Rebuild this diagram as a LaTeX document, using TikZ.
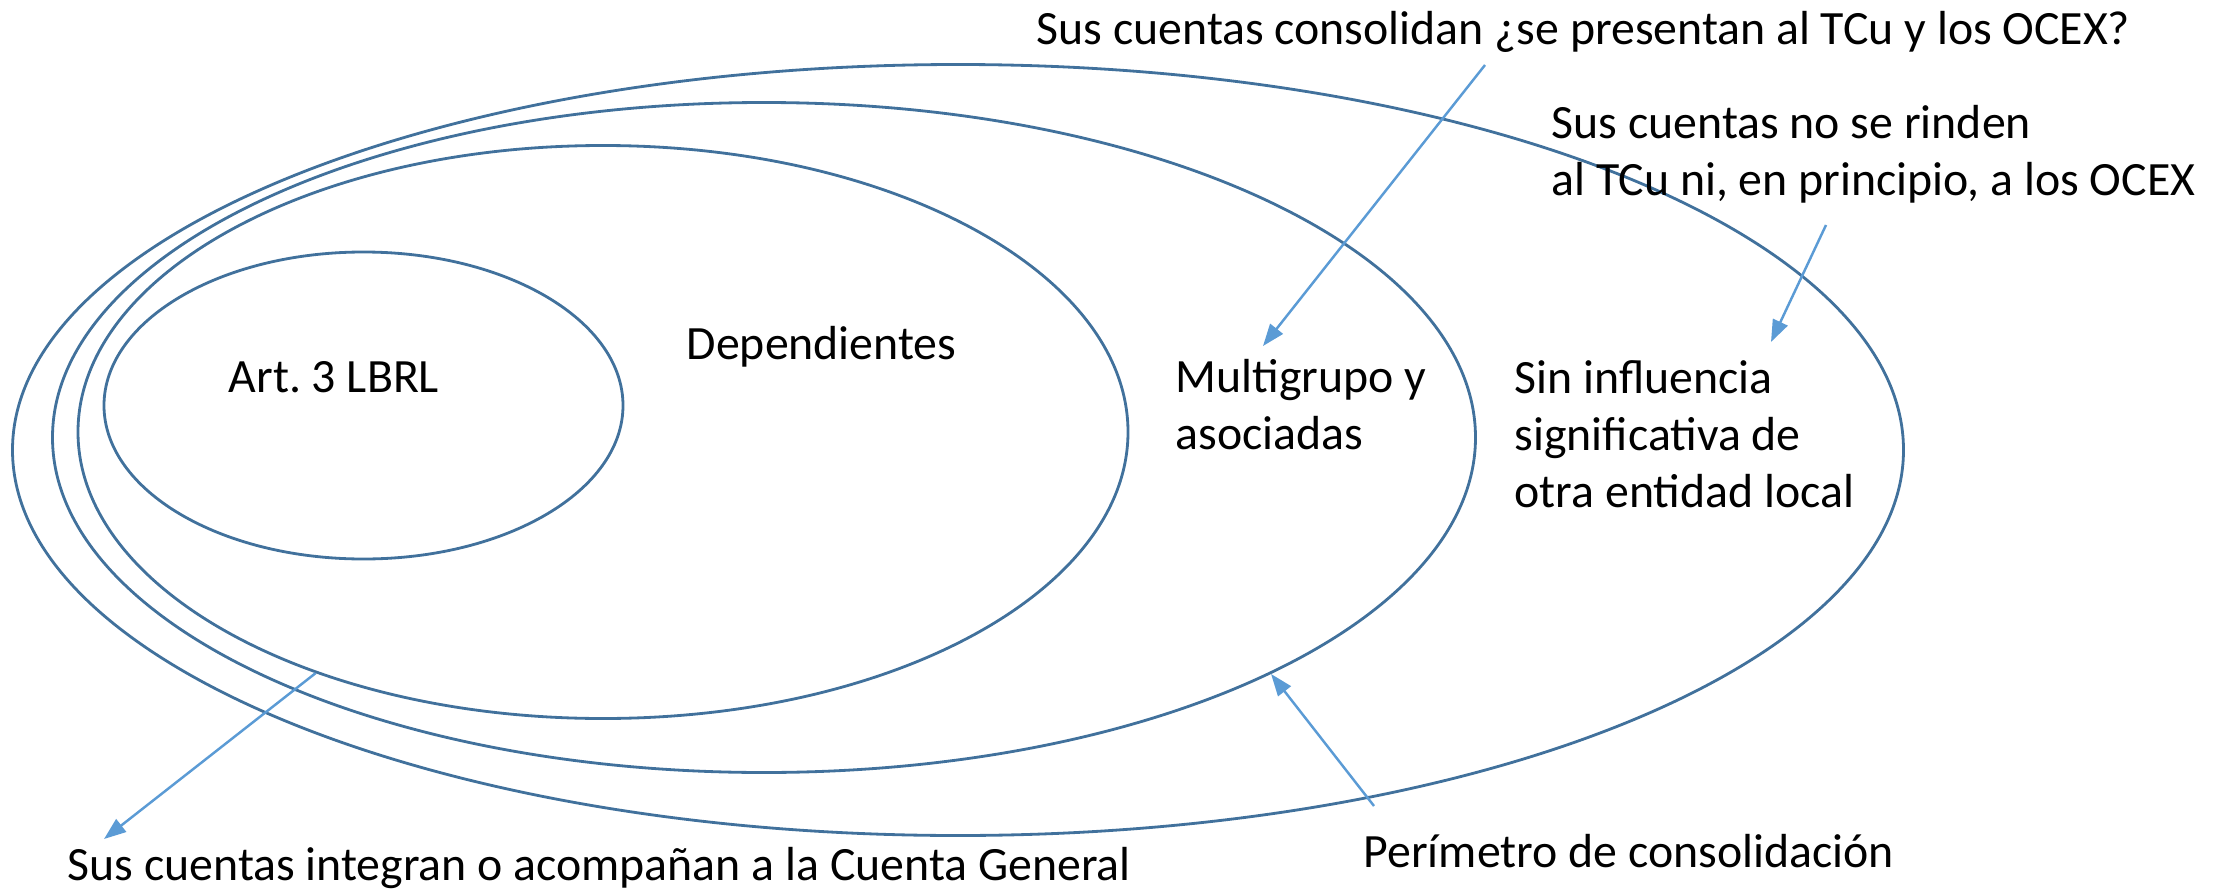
\documentclass[tikz,border=0pt]{standalone}
\usepackage{fontspec}
\setmainfont{Carlito}
\frenchspacing
\usetikzlibrary{shapes.geometric,arrows.meta}
\definecolor{ringblue}{HTML}{41719C}
\definecolor{arrowblue}{HTML}{5B9BD5}

\begin{document}
\begin{tikzpicture}[
    region/.style={ellipse, draw=ringblue, line width=0.8pt, inner sep=0pt},
    label/.style={font=\fontsize{13.6}{16.2}\selectfont, anchor=base west, align=left, inner sep=0pt},
    pointer/.style={draw=arrowblue, line width=0.7pt, -{Triangle[length=2.2mm,width=1.6mm]}}
]
\useasboundingbox (0,0) rectangle (22.31,8.91);

% Regions
\node[region, minimum width=18.91cm, minimum height=7.71cm] (total) at (9.58,4.41) {};
\node[region, minimum width=14.23cm, minimum height=6.70cm] (perim) at (7.64,4.535) {};
\node[region, minimum width=10.50cm, minimum height=5.73cm] (dep) at (6.03,4.59) {};
\node[region, minimum width=5.19cm, minimum height=3.07cm] (lbrl) at (3.635,4.855) {};

% Texts inside (multi-line ones sit on their last line)
\node[label] (art) at (2.28,4.99) {Art. 3 LBRL};
\node[label] (deplabel) at (6.86,5.32) {Dependientes};
\node[label] (multi) at (11.75,4.42) {Multigrupo y\\asociadas};
\node[label] (sin) at (15.14,3.84) {Sin influencia\\significativa de\\otra entidad local};

% Texts outside
\node[label] (consol) at (10.36,8.47) {Sus cuentas consolidan ¿se presentan al TCu y los OCEX?};
\node[label] (rinden) at (15.51,6.96) {Sus cuentas no se rinden\\al TCu ni, en principio, a los OCEX};
\node[label] (integran) at (0.67,0.11) {Sus cuentas integran o acompañan a la Cuenta General};
\node[label] (perimetro) at (13.63,0.24) {Perímetro de consolidación};

% Arrows
\coordinate (consoltail) at (14.85,8.26);
\coordinate (consoltip) at (12.63,5.45);
\coordinate (rindentail) at (18.26,6.66);
\coordinate (rindentip) at (17.71,5.49);
\coordinate (integrantip) at (1.04,0.52);
\coordinate (perimtail) at (13.74,0.85);

\draw[pointer] (consoltail) -- (consoltip);
\draw[pointer] (rindentail) -- (rindentip);
\draw[pointer] (dep.220) -- (integrantip);
\draw[pointer] (perimtail) -- (perim.-25);

\end{tikzpicture}
\end{document}
